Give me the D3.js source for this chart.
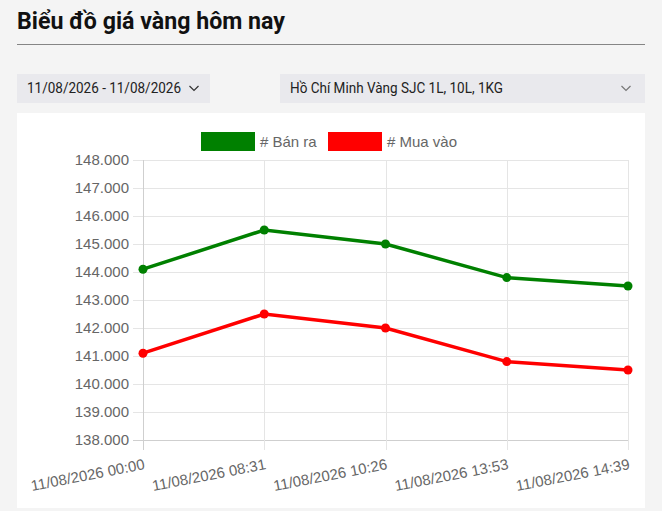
<!DOCTYPE html>
<html>
<head>
<meta charset="utf-8">
<script src="https://cdn.jsdelivr.net/npm/d3@7"></script>
<style>
  body { margin: 0; background: #f4f4f4; }
  svg { display: block; }
  .lbl { font-family: "Liberation Sans", Arial, sans-serif; font-size: 15px; fill: #666; }
</style>
</head>
<body>
<svg id="chart" width="662" height="511"></svg>
<script>
/*
Chart data
*/
var timeLabels = ["11/08/2026 00:00", "11/08/2026 08:31", "11/08/2026 10:26", "11/08/2026 13:53", "11/08/2026 14:39"];
var banRa = [144100, 145500, 145000, 143800, 143500];
var muaVao = [141100, 142500, 142000, 140800, 140500];
var yTicks = [138000, 139000, 140000, 141000, 142000, 143000, 144000, 145000, 146000, 147000, 148000];
var seriesNames = ["# Bán ra", "# Mua vào"];
var seriesColors = ["#008000", "#ff0000"];

var svg = d3.select("#chart");
var viNum = d3.formatLocale({decimal: ",", thousands: ".", grouping: [3], currency: ["", ""]}).format(",d");

/*
Page header
*/
svg.append("text")
   .attr("x", 17).attr("y", 29)
   .attr("textLength", 268).attr("lengthAdjust", "spacingAndGlyphs")
   .style("font", "bold 23px Roboto")
   .style("fill", "#111")
   .text("Biểu đồ giá vàng hôm nay");

svg.append("line")
   .attr("x1", 17).attr("x2", 645)
   .attr("y1", 44.5).attr("y2", 44.5)
   .style("stroke", "#858585");

function dropdown(x, w, label, labelLen, chevronX, chevronColor){
  svg.append("rect")
     .attr("x", x).attr("y", 74)
     .attr("width", w).attr("height", 29)
     .style("fill", "#e9e9ed");
  svg.append("text")
     .attr("x", x + 10).attr("y", 93)
     .attr("textLength", labelLen).attr("lengthAdjust", "spacingAndGlyphs")
     .style("font", "14px Roboto")
     .style("fill", "#222")
     .text(label);
  svg.append("path")
     .attr("d", "M" + (chevronX - 4.5) + ",86 l4.5,4.5 l4.5,-4.5")
     .style("fill", "none")
     .style("stroke", chevronColor)
     .style("stroke-width", 1.2);
}
dropdown(17, 193, "11/08/2026 - 11/08/2026", 154, 194, "#333");
dropdown(280, 365, "Hồ Chí Minh Vàng SJC 1L, 10L, 1KG", 213, 626, "#777");

svg.append("rect")
   .attr("x", 17).attr("y", 113)
   .attr("width", 628).attr("height", 395)
   .style("fill", "#fff");

/*
Scales and grid
*/
var x = d3.scalePoint().domain(timeLabels).range([143, 628]);
var y = d3.scaleLinear().domain([138000, 148000]).range([440, 160]);

var grid = svg.append("g");
grid.selectAll("line.h")
    .data(yTicks)
    .enter()
    .append("line")
    .attr("x1", 133).attr("x2", 628)
    .attr("y1", function(d){ return Math.round(y(d)) + 0.5; })
    .attr("y2", function(d){ return Math.round(y(d)) + 0.5; })
    .style("stroke", function(d){ return d == 138000 ? "#cfcfcf" : "#e5e5e5"; });

grid.selectAll("line.v")
    .data(timeLabels)
    .enter()
    .append("line")
    .attr("x1", function(d){ return Math.round(x(d)) + 0.5; })
    .attr("x2", function(d){ return Math.round(x(d)) + 0.5; })
    .attr("y1", 160).attr("y2", 450)
    .style("stroke", function(d,i){ return i == 0 ? "#cfcfcf" : "#e5e5e5"; });

/*
Axes labels
*/
var yAxis = d3.axisLeft(y).tickValues(yTicks).tickFormat(viNum).tickSize(0).tickPadding(14);
var yG = svg.append("g").attr("transform", "translate(143,0)").call(yAxis)
            .attr("font-family", null).attr("font-size", null);
yG.select(".domain").remove();
yG.selectAll("text").attr("class", "lbl").attr("fill", null);

var xAxis = d3.axisBottom(x).tickSize(0).tickPadding(0);
var xG = svg.append("g").attr("transform", "translate(0,440)").call(xAxis)
            .attr("font-family", null).attr("font-size", null);
xG.select(".domain").remove();
xG.selectAll("text")
  .attr("class", "lbl").attr("fill", null)
  .attr("x", 0).attr("y", 0).attr("dy", null)
  .attr("text-anchor", "end")
  .attr("transform", "translate(2,29) rotate(-11)");

/*
Series lines and points
*/
var seriesData = [banRa, muaVao];
var line = d3.line()
             .x(function(d,i){ return x(timeLabels[i]); })
             .y(function(d){ return y(d); });

seriesData.forEach(function(values, s){
  svg.append("path")
     .datum(values)
     .attr("d", line)
     .style("fill", "none")
     .style("stroke", seriesColors[s])
     .style("stroke-width", 3.5);
  svg.append("g")
     .selectAll("circle")
     .data(values)
     .enter()
     .append("circle")
     .attr("cx", function(d,i){ return x(timeLabels[i]); })
     .attr("cy", function(d){ return y(d); })
     .attr("r", 4.5)
     .style("fill", seriesColors[s]);
});

/*
Legend
*/
var legendX = [201, 328];
var legend = svg.append("g")
                .selectAll("g")
                .data(seriesNames)
                .enter()
                .append("g")
                .attr("transform", function(d,i){ return "translate(" + legendX[i] + ",132)"; });
legend.append("rect")
      .attr("width", 54).attr("height", 19)
      .style("fill", function(d,i){ return seriesColors[i]; });
legend.append("text")
      .attr("class", "lbl")
      .attr("x", 59).attr("y", 15)
      .text(function(d){ return d; });
</script>
</body>
</html>
